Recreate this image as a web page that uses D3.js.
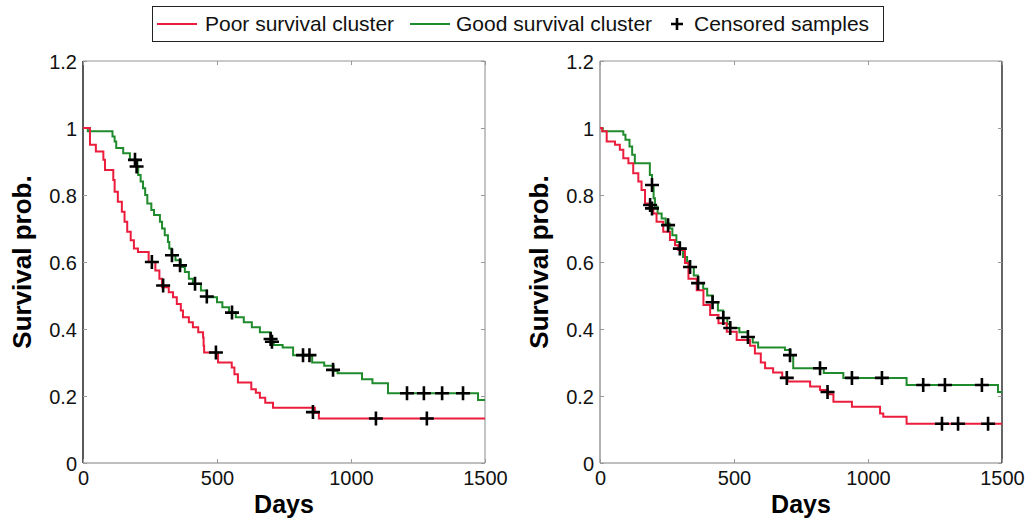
<!DOCTYPE html>
<html>
<head>
<meta charset="utf-8">
<script src="https://cdn.jsdelivr.net/npm/d3@7"></script>
<style>
  body { margin: 0; background: #fff; }
  svg { font-family: "Liberation Sans", Arial, sans-serif; }
</style>
</head>
<body>
<div id="chart"></div>
<script>
(function () {
	var width = 1027;
	var height = 520;
	var redColor = '#ec1c3c';
	var greenColor = '#1f8b2c';

	// [day, survival after step]
	var leftPoor = [[0,1],[26,0.95],[48,0.93],[76,0.905],[82,0.875],[113,0.845],[118,0.81],[130,0.78],[145,0.75],
		[155,0.72],[165,0.69],[178,0.665],[190,0.64],[205,0.63],[245,0.60],[270,0.575],[285,0.55],[295,0.525],
		[320,0.51],[336,0.495],[350,0.475],[365,0.455],[373,0.435],[395,0.42],[410,0.405],[430,0.39],[448,0.375],
		[450,0.35],[452,0.33],[504,0.30],[555,0.285],[565,0.265],[578,0.24],[628,0.22],[645,0.21],[660,0.195],
		[680,0.18],[709,0.165],[865,0.15],[880,0.133],[1500,0.133]];
	var leftPoorCens = [[257,0.60],[299,0.53],[496,0.33],[858,0.152],[1093,0.133],[1283,0.133]];

	var leftGood = [[0,1],[18,0.99],[110,0.975],[118,0.96],[124,0.94],[150,0.925],[175,0.905],[203,0.885],
		[206,0.86],[215,0.84],[224,0.82],[232,0.8],[240,0.775],[255,0.755],[265,0.74],[287,0.72],[295,0.7],
		[305,0.68],[317,0.66],[322,0.64],[330,0.62],[345,0.605],[365,0.585],[380,0.57],[395,0.55],[410,0.535],
		[440,0.515],[462,0.495],[500,0.48],[520,0.465],[545,0.45],[570,0.435],[600,0.42],[630,0.405],[660,0.39],
		[700,0.375],[706,0.36],[712,0.352],[745,0.345],[784,0.322],[855,0.3],[900,0.29],[935,0.275],[950,0.268],
		[1041,0.25],[1080,0.238],[1138,0.208],[1474,0.188],[1500,0.188]];
	var leftGoodCens = [[194,0.905],[200,0.885],[332,0.62],[362,0.59],[418,0.535],[462,0.497],[556,0.449],
		[700,0.37],[705,0.362],[821,0.322],[845,0.322],[933,0.278],[1209,0.208],[1272,0.208],[1340,0.208],[1418,0.208]];

	var rightPoor = [[0,1],[8,0.99],[25,0.96],[56,0.95],[74,0.935],[87,0.91],[106,0.895],[124,0.865],[143,0.84],
		[155,0.815],[168,0.775],[185,0.76],[199,0.745],[211,0.72],[236,0.69],[261,0.666],[280,0.65],[292,0.636],
		[317,0.597],[330,0.55],[361,0.516],[386,0.472],[411,0.442],[442,0.417],[473,0.392],[510,0.367],[560,0.35],
		[578,0.327],[600,0.3],[616,0.283],[646,0.27],[680,0.255],[700,0.243],[784,0.228],[821,0.218],[850,0.205],
		[871,0.183],[940,0.168],[1045,0.148],[1057,0.138],[1144,0.117],[1500,0.117]];
	var rightPoorCens = [[697,0.254],[849,0.212],[1276,0.117],[1336,0.117],[1448,0.117]];

	var rightGood = [[0,1],[10,0.99],[87,0.98],[95,0.965],[110,0.945],[120,0.92],[130,0.895],[186,0.86],[194,0.83],
		[200,0.79],[205,0.765],[215,0.745],[230,0.73],[245,0.715],[260,0.7],[270,0.68],[285,0.66],[298,0.64],
		[310,0.615],[325,0.6],[336,0.585],[350,0.56],[366,0.537],[385,0.52],[400,0.5],[420,0.48],[440,0.455],
		[460,0.433],[475,0.415],[486,0.403],[520,0.39],[552,0.376],[570,0.36],[590,0.345],[690,0.337],[711,0.322],
		[721,0.283],[835,0.269],[908,0.254],[1144,0.233],[1485,0.212],[1500,0.212]];
	var rightGoodCens = [[194,0.83],[187,0.77],[194,0.76],[254,0.71],[298,0.64],[336,0.585],[366,0.537],[420,0.48],
		[460,0.433],[486,0.403],[552,0.376],[709,0.322],[821,0.283],[940,0.254],[1052,0.254],[1206,0.233],
		[1287,0.233],[1425,0.233]];

	var xTicks = [0, 500, 1000, 1500];
	var yTicks = [0, 0.2, 0.4, 0.6, 0.8, 1, 1.2];
	var legendItems = ['Poor survival cluster', 'Good survival cluster', 'Censored samples'];

	var panels = [
		{x0: 83, x1: 485, poor: leftPoor, poorCens: leftPoorCens, good: leftGood, goodCens: leftGoodCens,
			leftAxis: '#222', rightAxis: '#b0b0b0'},
		{x0: 600, x1: 1002, poor: rightPoor, poorCens: rightPoorCens, good: rightGood, goodCens: rightGoodCens,
			leftAxis: '#999', rightAxis: '#333'}
	];

	var svg = d3.select('#chart').append('svg')
		.attr('width', width).attr('height', height);

	var y = d3.scaleLinear().domain([0, 1.2]).range([463, 61]);

	panels.forEach(function (p) {
		var x = d3.scaleLinear().domain([0, 1500]).range([p.x0, p.x1]);
		var g = svg.append('g');

		// frame
		g.append('line').attr('x1', p.x0).attr('x2', p.x1).attr('y1', 61).attr('y2', 61)
			.attr('stroke', '#b8b8b8').attr('stroke-width', 1.5);
		g.append('line').attr('x1', p.x0).attr('x2', p.x1).attr('y1', 463).attr('y2', 463)
			.attr('stroke', '#aaa').attr('stroke-width', 1.5);
		g.append('line').attr('x1', p.x0).attr('x2', p.x0).attr('y1', 61).attr('y2', 463)
			.attr('stroke', p.leftAxis).attr('stroke-width', 1.5);
		g.append('line').attr('x1', p.x1).attr('x2', p.x1).attr('y1', 61).attr('y2', 463)
			.attr('stroke', p.rightAxis).attr('stroke-width', 1.5);

		// axes with inner ticks
		g.append('g').attr('transform', 'translate(0,463)')
			.call(d3.axisBottom(x).tickValues(xTicks).tickSize(-4).tickPadding(8).tickFormat(d3.format('d')));
		g.append('g').attr('transform', 'translate(0,61)')
			.call(d3.axisTop(x).tickValues(xTicks).tickSize(-4).tickFormat(''));
		var yAxis = g.append('g').attr('transform', 'translate(' + p.x0 + ',0)')
			.call(d3.axisLeft(y).tickValues(yTicks).tickSize(-4).tickPadding(6).tickFormat(function (d) { return d3.format('')(+d.toFixed(1)); }));
		g.append('g').attr('transform', 'translate(' + p.x1 + ',0)')
			.call(d3.axisRight(y).tickValues(yTicks).tickSize(-4).tickFormat(''));

		g.selectAll('.domain').remove();
		g.selectAll('.tick line').attr('stroke', '#999');
		g.selectAll('.tick text').attr('fill', '#111').attr('font-size', 20)
			.attr('font-family', '"Liberation Sans", Arial, sans-serif');
		yAxis.selectAll('.tick text').attr('dy', '0.36em');

		// labels
		g.append('text').attr('x', (p.x0 + p.x1) / 2).attr('y', 513)
			.attr('text-anchor', 'middle').attr('font-size', 25).attr('font-weight', 'bold')
			.text('Days');
		g.append('text')
			.attr('transform', 'translate(' + (p.x0 - 52) + ',262)rotate(-90)')
			.attr('text-anchor', 'middle').attr('font-size', 26).attr('font-weight', 'bold')
			.text('Survival prob.');

		var line = d3.line()
			.x(function (d) { return x(d[0]); })
			.y(function (d) { return y(d[1]); })
			.curve(d3.curveStepAfter);

		g.append('path').datum(p.good).attr('d', line)
			.attr('fill', 'none').attr('stroke', greenColor).attr('stroke-width', 2);
		g.append('path').datum(p.poor).attr('d', line)
			.attr('fill', 'none').attr('stroke', redColor).attr('stroke-width', 2);

		var cens = p.poorCens.concat(p.goodCens);
		g.selectAll('.cens').data(cens).enter().append('path')
			.attr('class', 'cens')
			.attr('d', function (d) {
				var cx = x(d[0]), cy = y(d[1]), r = 7;
				return 'M' + (cx - r) + ',' + cy + 'H' + (cx + r) + 'M' + cx + ',' + (cy - r) + 'V' + (cy + r);
			})
			.attr('stroke', '#000').attr('stroke-width', 2.6).attr('fill', 'none');
	});

	// legend
	var lg = svg.append('g');
	lg.append('rect').attr('x', 152.5).attr('y', 6.5).attr('width', 731).attr('height', 35)
		.attr('fill', '#fff').attr('stroke', '#222').attr('stroke-width', 1);
	var legendPos = [{lx: 157, tx: 205, color: redColor}, {lx: 410, tx: 456, color: greenColor}, {lx: 671, tx: 694, color: null}];
	legendItems.forEach(function (t, i) {
		var lp = legendPos[i];
		if (lp.color) {
			lg.append('line').attr('x1', lp.lx).attr('x2', lp.lx + 40).attr('y1', 24).attr('y2', 24)
				.attr('stroke', lp.color).attr('stroke-width', 2);
		} else {
			lg.append('path').attr('d', 'M' + (lp.lx) + ',24H' + (lp.lx + 12) + 'M' + (lp.lx + 6) + ',18V30')
				.attr('stroke', '#000').attr('stroke-width', 2.6);
		}
		lg.append('text').attr('x', lp.tx).attr('y', 31).attr('font-size', 21).attr('fill', '#111').text(t);
	});
})();
</script>
</body>
</html>
